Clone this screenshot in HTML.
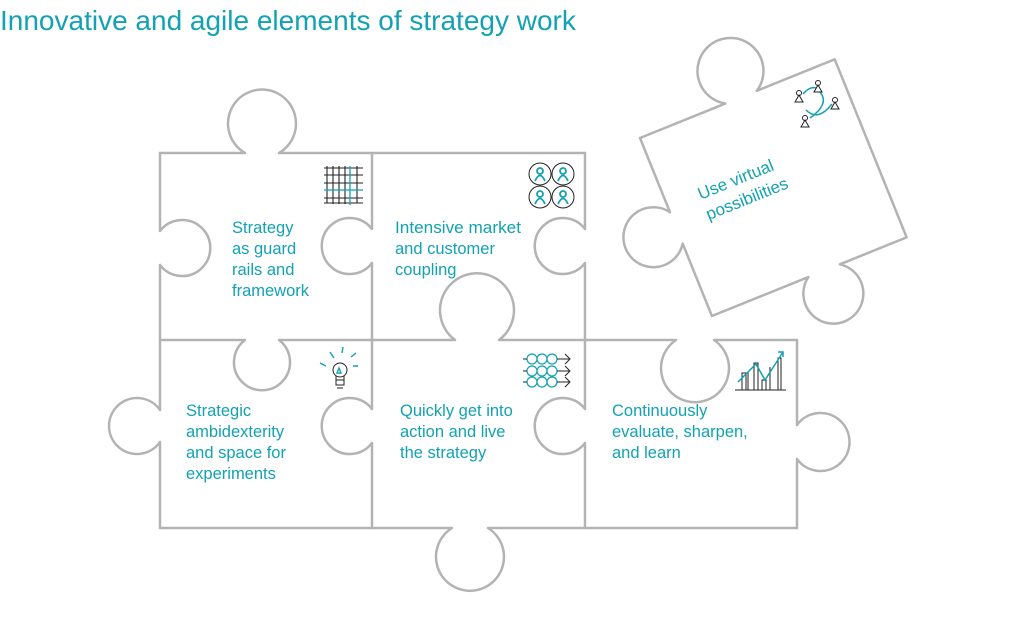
<!DOCTYPE html>
<html><head><meta charset="utf-8"><style>
html,body{margin:0;padding:0;background:#fff;width:1024px;height:636px;overflow:hidden}
svg{display:block}
text{font-family:"Liberation Sans",sans-serif;fill:#12a2b3}
</style></head><body>
<svg width="1024" height="636" viewBox="0 0 1024 636" xmlns="http://www.w3.org/2000/svg">
<text x="0" y="30" font-size="28">Innovative and agile elements of strategy work</text>
<g fill="none" stroke="#b3b3b3" stroke-width="2.5" stroke-linejoin="round" stroke-linecap="round">
<path d="M160 153 H245 A34 34 0 1 1 279 153 H585"/>
<path d="M160 153 V231 A28 28 0 1 1 160 265 V410 A28 28 0 1 0 160 442 V528"/>
<path d="M160 528 H452 A34 34 0 1 0 488 528 H797"/>
<path d="M797 340 V425 A29 29 0 1 1 797 459 V528"/>
<path d="M160 340 H245 A28 28 0 1 0 279 340 H455 A37 37 0 1 1 499 340 H676 A34 34 0 1 0 714 340 H797"/>
<path d="M372 153 V229 A28 28 0 1 0 372 263 V409 A28 28 0 1 0 372 443 V528"/>
<path d="M585 153 V229 A28 28 0 1 0 585 263 V409 A28 28 0 1 0 585 443 V528"/>
<g transform="translate(640,138) rotate(-22)">
<path d="M0 0 H92 A33 33 0 1 1 126 0 H210 L210 192 H138 A30 30 0 1 1 104 192 H0 V114 A30 30 0 1 1 0 80 Z"/>
</g>
</g>
<g transform="translate(640,138) rotate(-22)" font-size="17">
<text x="33" y="80">Use virtual</text>
<text x="33" y="102">possibilities</text>
</g>
<g font-size="16.5">
<text x="232" y="233">Strategy</text>
<text x="232" y="254">as guard</text>
<text x="232" y="275">rails and</text>
<text x="232" y="296">framework</text>
<text x="395" y="233" textLength="126" lengthAdjust="spacingAndGlyphs">Intensive market</text>
<text x="395" y="254">and customer</text>
<text x="395" y="275">coupling</text>
<text x="186" y="416">Strategic</text>
<text x="186" y="437">ambidexterity</text>
<text x="186" y="458">and space for</text>
<text x="186" y="479">experiments</text>
<text x="400" y="416">Quickly get into</text>
<text x="400" y="437">action and live</text>
<text x="400" y="458">the strategy</text>
<text x="612" y="416">Continuously</text>
<text x="612" y="437">evaluate, sharpen,</text>
<text x="612" y="458">and learn</text>
</g>
<g stroke="#222" stroke-width="1.1">
<path d="M327 166V203M333 166V204M339 166V204M345 166V204M357 166V203M324 168H363M324 175H363M324 183H363M324 198H363M324 203H363"/>
</g>
<path d="M350 166V205M324 190H363" stroke="#12a2b3" stroke-width="1.3"/>
<g stroke="#222" stroke-width="1" fill="none">
<circle cx="540" cy="174" r="11"/><circle cx="563" cy="174" r="11"/>
<circle cx="540" cy="197" r="11"/><circle cx="563" cy="197" r="11"/>
</g>
<g stroke="#12a2b3" stroke-width="1.8" fill="none">
<circle cx="540" cy="171" r="3"/><path d="M535 181 Q540 170 545 181"/>
<circle cx="563" cy="171" r="3"/><path d="M558 181 Q563 170 568 181"/>
<circle cx="540" cy="194" r="3"/><path d="M535 204 Q540 193 545 204"/>
<circle cx="563" cy="194" r="3"/><path d="M558 204 Q563 193 568 204"/>
</g>
<g stroke="#12a2b3" stroke-width="1.4" fill="none">
<path d="M330 352l4 6M343 347l-1 6M356 353l-5 4M320 363l6 3M358 366h-5M339 368l2 5h-4z"/>
</g>
<g stroke="#222" stroke-width="1" fill="none">
<circle cx="340" cy="370" r="7"/><path d="M336 376v9h8v-9M336 380h8M337 388h6"/>
</g>
<g stroke="#12a2b3" stroke-width="1.2" fill="none">
<circle cx="532" cy="359" r="5"/><circle cx="542" cy="359" r="5"/><circle cx="552" cy="359" r="5"/>
<circle cx="532" cy="371" r="5"/><circle cx="542" cy="371" r="5"/><circle cx="552" cy="371" r="5"/>
<circle cx="532" cy="382" r="5"/><circle cx="542" cy="382" r="5"/><circle cx="552" cy="382" r="5"/>
</g>
<g stroke="#222" stroke-width="1" fill="none">
<path d="M523 359h4M523 371h4M523 382h4M557 359h12M565 354l5 5-5 5M557 371h12M565 366l5 5-5 5M557 382h12M565 377l5 5-5 5"/>
</g>
<g stroke="#222" stroke-width="1" fill="none">
<path d="M735 390H786M742 390V373h4V390M748 390V372M754 390V363h4V390M762 390V380h4V390M770 390V367M778 390V358h3V390"/>
</g>
<path d="M738 382L756 364L765 380L783 352M778 352h5v5" stroke="#12a2b3" stroke-width="1.5" fill="none"/>
<path d="M803 94 Q810 86 816 88M820 92 Q830 104 810 118M806 110 Q818 122 832 104" stroke="#12a2b3" stroke-width="1.5" fill="none"/>
<g stroke="#222" stroke-width="1" fill="none">
<circle cx="799" cy="93" r="2.5"/><path d="M795 102l4-7 4 7z"/>
<circle cx="818" cy="83" r="2.5"/><path d="M814 92l4-7 4 7z"/>
<circle cx="835" cy="100" r="2.5"/><path d="M831 109l4-7 4 7z"/>
<circle cx="805" cy="118" r="2.5"/><path d="M801 127l4-7 4 7z"/>
</g>
</svg>
</body></html>
